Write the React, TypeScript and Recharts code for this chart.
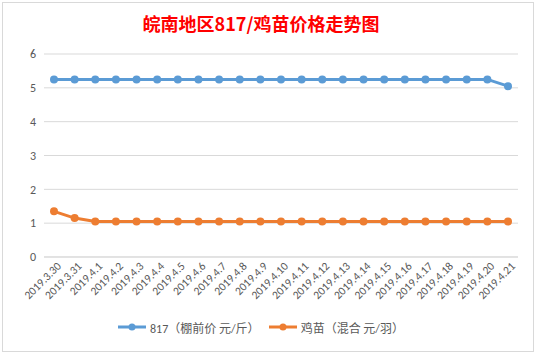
import React from 'react';
import { LineChart, Line, XAxis, YAxis, CartesianGrid, Legend } from 'recharts';

// dates on the x axis
const dates = [
  '2019.3.30', '2019.3.31', '2019.4.1', '2019.4.2', '2019.4.3', '2019.4.4', '2019.4.5', '2019.4.6',
  '2019.4.7', '2019.4.8', '2019.4.9', '2019.4.10', '2019.4.11', '2019.4.12', '2019.4.13', '2019.4.14',
  '2019.4.15', '2019.4.16', '2019.4.17', '2019.4.18', '2019.4.19', '2019.4.20', '2019.4.21',
];

// 817 (棚前价 元/斤)
const price817 = [
  5.25, 5.25, 5.25, 5.25, 5.25, 5.25, 5.25, 5.25, 5.25, 5.25, 5.25, 5.25,
  5.25, 5.25, 5.25, 5.25, 5.25, 5.25, 5.25, 5.25, 5.25, 5.25, 5.05,
];

// 鸡苗 (混合 元/羽)
const chickPrice = [
  1.35, 1.15, 1.05, 1.05, 1.05, 1.05, 1.05, 1.05, 1.05, 1.05, 1.05, 1.05,
  1.05, 1.05, 1.05, 1.05, 1.05, 1.05, 1.05, 1.05, 1.05, 1.05, 1.05,
];

const yTicks = [0, 1, 2, 3, 4, 5, 6];

const SERIES = [
  { key: 'a', name: '817（棚前价 元/斤）', color: '#5B9BD5' },
  { key: 'b', name: '鸡苗（混合 元/羽）', color: '#ED7D31' },
];

const data = dates.map((d, i) => ({ date: d, a: price817[i], b: chickPrice[i] }));

const FONT = 'Calibri, "Liberation Sans", "Noto Sans CJK SC", sans-serif';
const TEXT = '#595959';

const DateTick = (props: any) => {
  const { x, y, payload } = props;
  return (
    <g transform={`translate(${x + 5},${y - 1})`}>
      <text
        x={0}
        y={0}
        dy="0.35em"
        textAnchor="end"
        transform="rotate(-45)"
        fill={TEXT}
        fontSize={11.5}
        fontFamily={FONT}
      >
        {payload.value}
      </text>
    </g>
  );
};

const LegendContent = () => (
  <div style={{ display: 'flex', justifyContent: 'center', alignItems: 'center', height: 26, fontFamily: FONT, fontSize: 12, color: TEXT }}>
    {SERIES.map((s, i) => (
      <div key={s.key} style={{ display: 'flex', alignItems: 'center', marginLeft: i ? 8 : 0 }}>
        <svg width={30} height={10}>
          <line x1={1} y1={5} x2={29} y2={5} stroke={s.color} strokeWidth={3} />
          <circle cx={15} cy={5} r={3.5} fill={s.color} />
        </svg>
        <span style={{ marginLeft: 3 }}>{s.name}</span>
      </div>
    ))}
  </div>
);

export default function App() {
  return (
    <div style={{ position: 'fixed', left: 0, top: 0, width: 537, height: 355, background: '#fff' }}>
      <div
        style={{
          position: 'absolute',
          left: 2,
          top: 2,
          width: 532,
          height: 350,
          border: '1px solid #d9d9d9',
          boxSizing: 'border-box',
          background: '#fff',
        }}
      >
        <div
          style={{
            position: 'absolute',
            left: 0,
            top: 8,
            width: 516,
            textAlign: 'center',
            color: '#FF0000',
            fontWeight: 'bold',
            fontSize: 18,
            fontFamily: '"Noto Sans CJK SC", sans-serif',
            lineHeight: '24px',
          }}
        >
          皖南地区817/鸡苗价格走势图
        </div>
        <LineChart width={530} height={348} data={data} margin={{ top: 51, right: 15, left: 0, bottom: 11 }}>
          <CartesianGrid horizontal vertical={false} stroke="#d9d9d9" />
          <XAxis
            dataKey="date"
            interval={0}
            height={57}
            padding={{ left: 10, right: 10 }}
            axisLine={{ stroke: '#d9d9d9' }}
            tickLine={false}
            tick={<DateTick />}
          />
          <YAxis
            domain={[0, 6]}
            ticks={yTicks}
            width={41}
            axisLine={false}
            tickLine={false}
            tick={{ fill: TEXT, fontSize: 12, fontFamily: FONT }}
          />
          <Legend verticalAlign="bottom" height={26} content={<LegendContent />} />
          {SERIES.map((s) => (
            <Line
              key={s.key}
              type="linear"
              dataKey={s.key}
              name={s.name}
              stroke={s.color}
              strokeWidth={3}
              dot={{ r: 4, fill: s.color, stroke: s.color, strokeWidth: 0 }}
              isAnimationActive={false}
            />
          ))}
        </LineChart>
      </div>
    </div>
  );
}
